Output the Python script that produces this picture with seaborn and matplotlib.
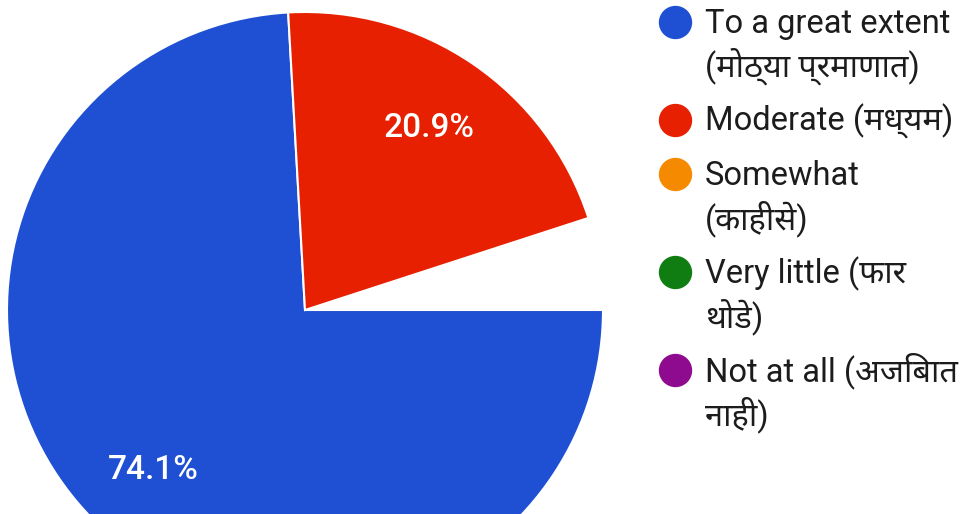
import matplotlib
matplotlib.use("Agg")
import matplotlib.pyplot as plt
import seaborn as sns

# ---- data ----
categories = [
    "To a great extent\n(मोठ्या प्रमाणात)",
    "Moderate (मध्यम)",
    "Somewhat\n(काहीसे)",
    "Very little (फार\nथोडे)",
    "Not at all (अजिबात\nनाही)",
]
percentages = [74.1, 20.9, 0.0, 0.0, 0.0]
colors_hex = ["#1f50d4", "#e62000", "#f58a00", "#0f7d12", "#8e0a8e"]

sns.set_theme(style="white")
plt.rcParams["font.family"] = ["Roboto", "Noto Sans Devanagari", "DejaVu Sans"]

W, H, DPI = 970, 514, 100
fig = plt.figure(figsize=(W / DPI, H / DPI), dpi=DPI)
fig.patch.set_facecolor("white")

# pie geometry (pixels)
cx, cy, R = 305, 310, 298
ax = fig.add_axes([0, 0, 1, 1])

palette = sns.color_palette(colors_hex)
vals = [p / 100 for p in percentages if p > 0]
cols = [palette[i] for i, p in enumerate(percentages) if p > 0]

wedges, texts, autotexts = ax.pie(
    vals,
    colors=cols,
    normalize=False,
    startangle=0,
    counterclock=False,
    autopct="%1.1f%%",
    pctdistance=0.74,
    wedgeprops=dict(edgecolor="white", linewidth=1.5),
    textprops=dict(color="white", fontsize=24, fontweight="medium"),
)
ax.set_xlim(-cx / R, (W - cx) / R)
ax.set_ylim(-(H - cy) / R, cy / R)
ax.set_aspect("auto")
ax.axis("off")

# ---- manual legend (marker on first line of each entry) ----
def fx(x):
    return x / W

def fy(y):
    return 1 - y / H

marker_x, text_x = 675, 705
line_step, entry_gap = 44, 54
center_y = 22
for i, lab in enumerate(categories):
    lines = lab.split("\n")
    ax.plot([fx(marker_x)], [fy(center_y)], marker="o", markersize=23,
            color=palette[i], markeredgecolor=palette[i],
            transform=fig.transFigure, clip_on=False, linestyle="none")
    for j, ln in enumerate(lines):
        yc = center_y + j * line_step
        fig.text(fx(text_x), fy(yc + 11), ln, ha="left", va="baseline",
                 fontsize=23.5, color="#1c1c1c")
    center_y = center_y + (len(lines) - 1) * line_step + entry_gap

fig.savefig("out.png", dpi=DPI, facecolor="white")
